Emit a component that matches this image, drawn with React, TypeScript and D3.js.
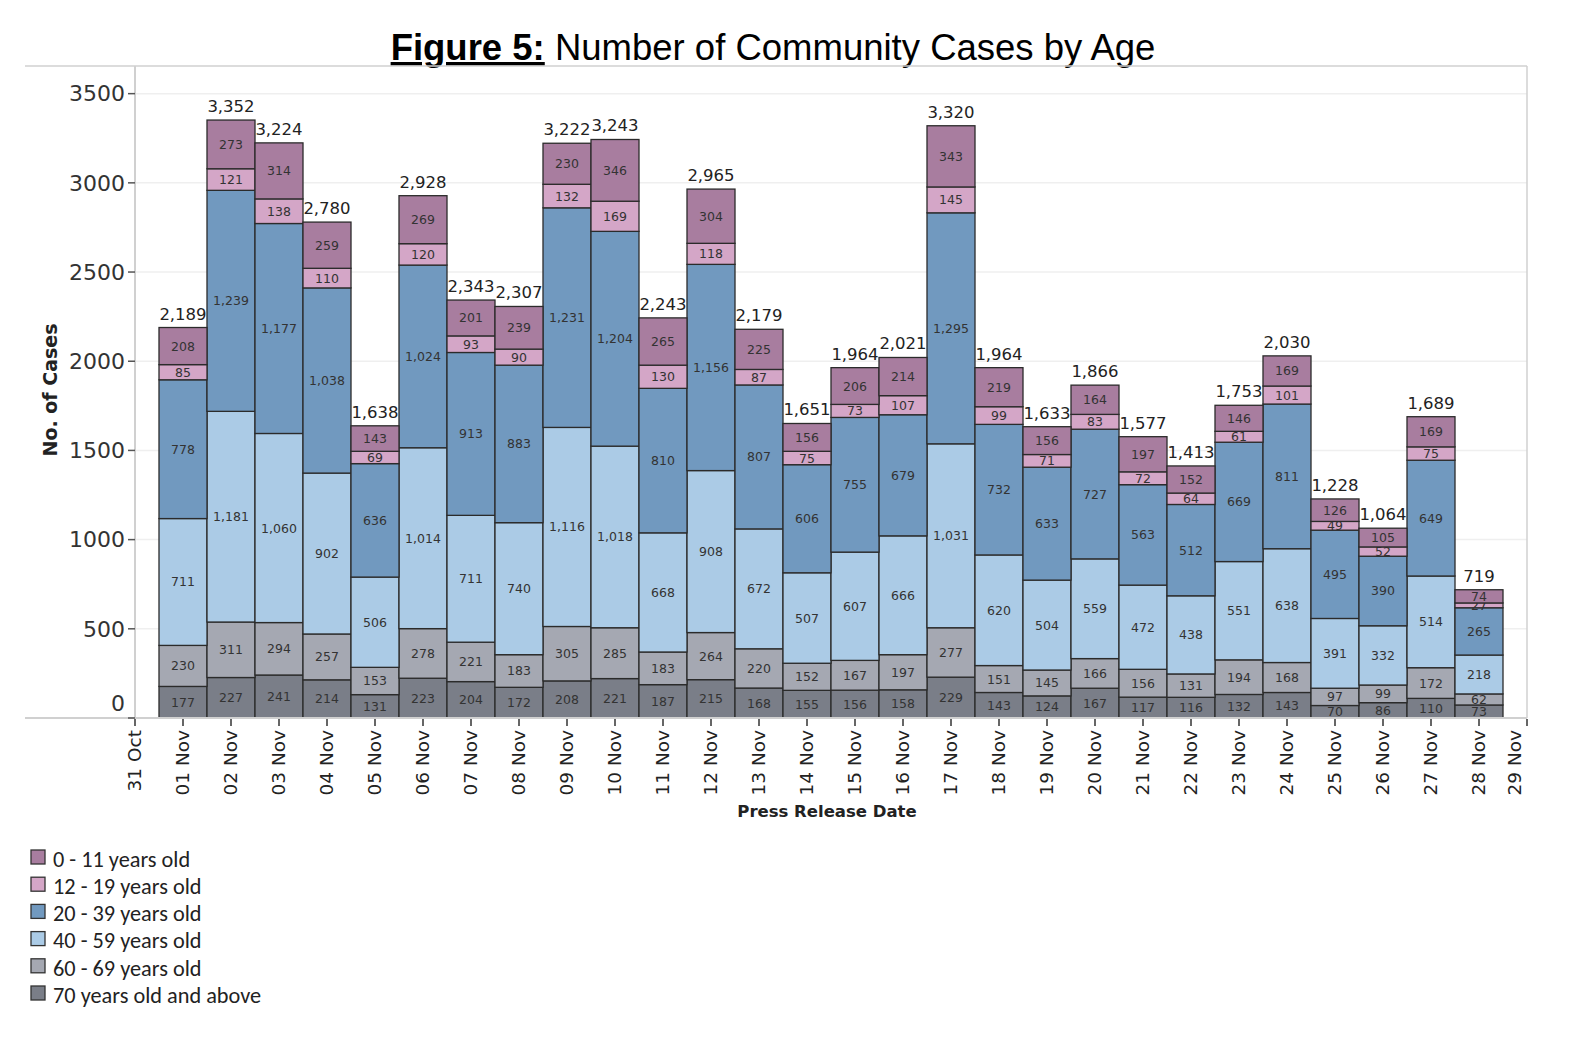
import React from "react";
import * as d3 from "d3";

const dates = [
  "2020-11-01","2020-11-02","2020-11-03","2020-11-04","2020-11-05","2020-11-06","2020-11-07",
  "2020-11-08","2020-11-09","2020-11-10","2020-11-11","2020-11-12","2020-11-13","2020-11-14",
  "2020-11-15","2020-11-16","2020-11-17","2020-11-18","2020-11-19","2020-11-20","2020-11-21",
  "2020-11-22","2020-11-23","2020-11-24","2020-11-25","2020-11-26","2020-11-27","2020-11-28",
];

const age70plus = [177,227,241,214,131,223,204,172,208,221,187,215,168,155,156,158,229,143,124,167,117,116,132,143,70,86,110,73];
const age60to69 = [230,311,294,257,153,278,221,183,305,285,183,264,220,152,167,197,277,151,145,166,156,131,194,168,97,99,172,62];
const age40to59 = [711,1181,1060,902,506,1014,711,740,1116,1018,668,908,672,507,607,666,1031,620,504,559,472,438,551,638,391,332,514,218];
const age20to39 = [778,1239,1177,1038,636,1024,913,883,1231,1204,810,1156,807,606,755,679,1295,732,633,727,563,512,669,811,495,390,649,265];
const age12to19 = [85,121,138,110,69,120,93,90,132,169,130,118,87,75,73,107,145,99,71,83,72,64,61,101,49,52,75,27];
const age0to11 = [208,273,314,259,143,269,201,239,230,346,265,304,225,156,206,214,343,219,156,164,197,152,146,169,126,105,169,74];

const seriesNames = [
  "70 years old and above",
  "60 - 69 years old",
  "40 - 59 years old",
  "20 - 39 years old",
  "12 - 19 years old",
  "0 - 11 years old",
];
const seriesValues = [age70plus, age60to69, age40to59, age20to39, age12to19, age0to11];
const seriesColors = ["#7a7e88", "#a5a8b2", "#abcbe6", "#7199bf", "#d4a6c7", "#a87d9f"];

const yTicks = [0, 500, 1000, 1500, 2000, 2500, 3000, 3500];

const W = 1576;
const H = 1038;
const plotLeft = 135;
const plotRight = 1527;
const plotTop = 66;
const plotBottom = 718;

export default function App() {
  const parse = d3.utcParse("%Y-%m-%d");
  const days = dates.map((d) => parse(d) as Date);
  const x = d3
    .scaleUtc()
    .domain([parse("2020-10-31") as Date, parse("2020-11-29") as Date])
    .range([plotLeft, plotRight]);
  const y = d3.scaleLinear().domain([0, 3655]).range([plotBottom, plotTop]);

  const rows = days.map((d, i) => {
    const r: any = { date: d };
    seriesNames.forEach((n, k) => (r[n] = seriesValues[k][i]));
    return r;
  });
  const stacked = d3.stack<any>().keys(seriesNames)(rows);
  const totals = days.map((_, i) => d3.sum(seriesValues, (s) => s[i]));

  const tickDays = d3.utcDay.range(parse("2020-10-31") as Date, d3.utcDay.offset(parse("2020-11-29") as Date, 1));
  const fmtTick = d3.utcFormat("%d %b");
  const fmtNum = d3.format(",");

  const dayW = x(days[1]) - x(days[0]);
  const labelFont = "Tahoma, 'DejaVu Sans', 'Noto Sans', sans-serif";

  return (
    <svg width={W} height={H} style={{ display: "block", position: "absolute", left: 0, top: 0, background: "#fff" }}>
      {/* title */}
      <text x={773} y={60} textAnchor="middle" fontFamily="'Liberation Sans', Arial, sans-serif" fontSize={36.5} fill="#000">
        <tspan fontWeight="bold" textDecoration="underline">Figure 5:</tspan>
        <tspan> Number of Community Cases by Age</tspan>
      </text>

      {/* gridlines */}
      {yTicks.map((t) => (
        <line key={"g" + t} x1={plotLeft} x2={plotRight} y1={y(t)} y2={y(t)} stroke="#efefef" strokeWidth={1.5} />
      ))}

      {/* frame */}
      <line x1={25} x2={plotRight} y1={plotTop} y2={plotTop} stroke="#d0d0d0" strokeWidth={1.5} />
      <line x1={plotRight} x2={plotRight} y1={plotTop} y2={plotBottom} stroke="#d0d0d0" strokeWidth={1.5} />
      <line x1={plotLeft} x2={plotLeft} y1={plotTop} y2={plotBottom} stroke="#d0d0d0" strokeWidth={2} />

      {/* bars */}
      {stacked.map((layer, k) => (
        <g key={layer.key}>
          {layer.map((seg, i) => {
            const cx = x(days[i]);
            const y0 = y(seg[0]);
            const y1 = y(seg[1]);
            return (
              <g key={i}>
                <rect x={cx - dayW / 2} y={y1} width={dayW} height={y0 - y1} fill={seriesColors[k]} stroke="#2b2b2b" strokeWidth={1.3} />
                <text
                  x={cx}
                  y={(y0 + y1) / 2}
                  dy="0.36em"
                  textAnchor="middle"
                  fontFamily={labelFont}
                  fontSize={12.5}
                  fill="#333"
                >
                  {fmtNum(seriesValues[k][i])}
                </text>
              </g>
            );
          })}
        </g>
      ))}

      {/* totals */}
      {totals.map((t, i) => (
        <text key={"t" + i} x={x(days[i])} y={y(t) - 8} textAnchor="middle" fontFamily={labelFont} fontSize={16.5} fill="#222">
          {fmtNum(t)}
        </text>
      ))}

      {/* bottom axis line */}
      <line x1={25} x2={plotRight} y1={plotBottom} y2={plotBottom} stroke="#d0d0d0" strokeWidth={2} />

      {/* y ticks */}
      {yTicks.map((t) => (
        <g key={"y" + t}>
          <line x1={plotLeft - 7} x2={plotLeft} y1={y(t)} y2={y(t)} stroke="#555" strokeWidth={1.5} />
          <text
            x={plotLeft - 10}
            y={t === 0 ? y(t) - 15 : y(t)}
            dy="0.35em"
            textAnchor="end"
            fontFamily={labelFont}
            fontSize={22}
            fill="#333"
          >
            {t}
          </text>
        </g>
      ))}
      <text
        transform={`translate(57, 390) rotate(-90)`}
        textAnchor="middle"
        fontFamily={labelFont}
        fontWeight="bold"
        fontSize={19}
        fill="#222"
      >
        No. of Cases
      </text>

      {/* x ticks */}
      {tickDays.map((d, i) => (
        <g key={"x" + i} transform={`translate(${x(d)},${plotBottom})`}>
          <line y1={1} y2={8} stroke="#333" strokeWidth={1.5} />
          <text
            transform="rotate(-90)"
            x={-12}
            y={i === tickDays.length - 1 ? -12 : 0}
            dy="0.35em"
            textAnchor="end"
            fontFamily={labelFont}
            fontSize={18.5}
            fill="#222"
          >
            {fmtTick(d)}
          </text>
        </g>
      ))}
      <text x={827} y={817} textAnchor="middle" fontFamily={labelFont} fontWeight="bold" fontSize={16.5} fill="#222">
        Press Release Date
      </text>

      {/* legend */}
      {seriesNames
        .slice()
        .reverse()
        .map((n, j) => {
          const k = seriesNames.length - 1 - j;
          const cy = 857 + j * 27.2;
          return (
            <g key={"l" + n}>
              <rect x={31} y={cy - 7} width={14} height={14} fill={seriesColors[k]} stroke="#333" strokeWidth={1.3} />
              <text x={53} y={cy + 2} dy="0.35em" fontFamily="Carlito, Lato, 'Open Sans', sans-serif" fontSize={22.3} fill="#222">
                {n}
              </text>
            </g>
          );
        })}
    </svg>
  );
}
